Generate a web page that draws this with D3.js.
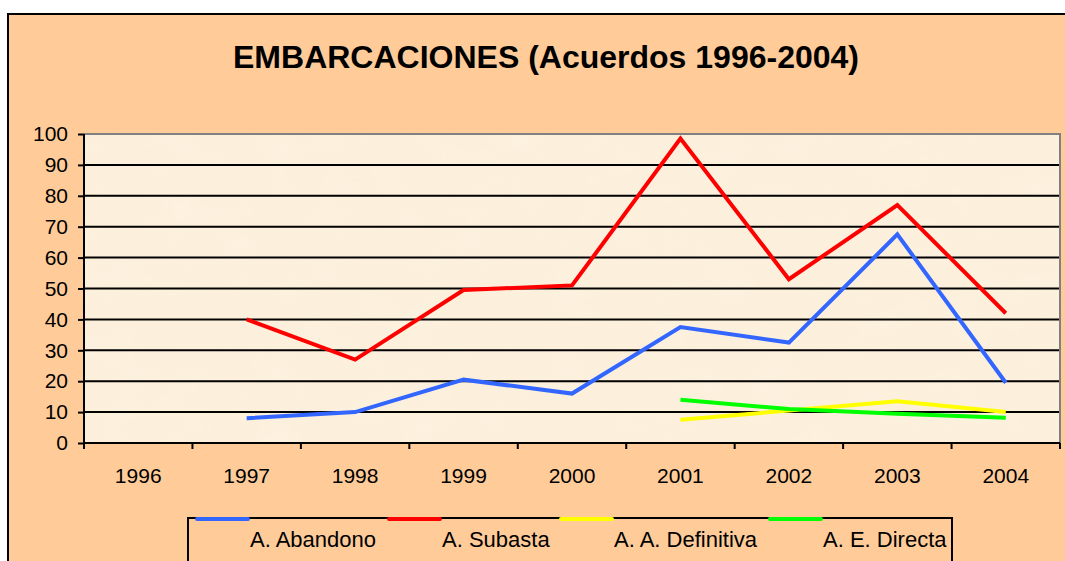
<!DOCTYPE html>
<html lang="es">
<head>
<meta charset="UTF-8">
<script src="https://cdn.jsdelivr.net/npm/d3@7/dist/d3.min.js"></script>
<title>EMBARCACIONES</title>
<style>
    body, html { margin: 0; padding: 0; background: #fff; }
    #chart { width: 1065px; height: 561px; }
</style>
</head>
<body>
<div id="chart"></div>
<script>
// datos
const years = ["1996", "1997", "1998", "1999", "2000", "2001", "2002", "2003", "2004"]
const abandono   = [null, 8, 10, 20.5, 16, 37.5, 32.5, 67.5, 19.5]
const subasta    = [null, 40, 27, 49.5, 51, 98.5, 53, 77, 42]
const definitiva = [null, null, null, null, null, 7.5, 10.5, 13.5, 10]
const directa    = [null, null, null, null, null, 14, 11, 9.5, 8.2]
const seriesNames = ["A. Abandono", "A. Subasta", "A. A. Definitiva", "A. E. Directa"]
const seriesColors = ["#3366ff", "#ff0000", "#ffff00", "#00ff00"]
const yTicks = [0, 10, 20, 30, 40, 50, 60, 70, 80, 90, 100]

const W = 1065, H = 561
const plot = { left: 84, right: 1060, top: 134, bottom: 443 }
const FONT = "Arial, 'Liberation Sans', sans-serif"

const svg = d3.select("#chart").append("svg").attr("width", W).attr("height", H)
    .style("font-family", FONT)

// textura del fondo
const defs = svg.append("defs")
const filt = defs.append("filter").attr("id", "paper").attr("x", 0).attr("y", 0).attr("width", "100%").attr("height", "100%")
filt.append("feTurbulence").attr("type", "fractalNoise").attr("baseFrequency", "0.02 0.03").attr("numOctaves", 3).attr("seed", 4).attr("result", "n")
filt.append("feColorMatrix").attr("in", "n").attr("type", "matrix")
    .attr("values", "0 0 0 0 0.99  0 0 0 0 0.93  0 0 0 0 0.82  0 0 0 -0.9 0.5").attr("result", "c")
filt.append("feComposite").attr("in", "c").attr("in2", "SourceGraphic").attr("operator", "in")

// marco exterior
svg.append("rect").attr("x", 8).attr("y", 14).attr("width", W + 20).attr("height", H + 20)
    .attr("fill", "#ffcc99").attr("stroke", "#000").attr("stroke-width", 2)

// título
svg.append("text").attr("x", 546).attr("y", 68).attr("text-anchor", "middle")
    .attr("font-size", 32).attr("font-weight", "bold").text("EMBARCACIONES (Acuerdos 1996-2004)")

const x = d3.scaleBand().domain(years).range([plot.left, plot.right])
const y = d3.scaleLinear().domain([0, 100]).range([plot.bottom, plot.top])

// área de trazado
svg.append("rect").attr("x", plot.left).attr("y", plot.top).attr("width", plot.right - plot.left).attr("height", plot.bottom - plot.top)
    .attr("fill", "#fcf0dc")
svg.append("rect").attr("x", plot.left).attr("y", plot.top).attr("width", plot.right - plot.left).attr("height", plot.bottom - plot.top)
    .attr("fill", "#fff").attr("filter", "url(#paper)").attr("opacity", 0.6)

// líneas de cuadrícula
svg.append("g").selectAll("line").data(yTicks.slice(1, -1)).enter().append("line")
    .attr("x1", plot.left).attr("x2", plot.right).attr("y1", d => y(d)).attr("y2", d => y(d))
    .attr("stroke", "#000").attr("stroke-width", 2)

// borde del área (gris)
svg.append("path").attr("d", `M${plot.left},${plot.top}H${plot.right}V${plot.bottom}`)
    .attr("fill", "none").attr("stroke", "#808080").attr("stroke-width", 2)

// eje Y
const yAxis = svg.append("g").attr("transform", `translate(${plot.left},0)`)
    .call(d3.axisLeft(y).tickValues(yTicks).tickSize(6).tickPadding(10))
yAxis.attr("font-size", 21).attr("font-family", FONT)
yAxis.select(".domain").attr("stroke", "#000").attr("stroke-width", 2).attr("d", `M0,${plot.top}V${plot.bottom}`)
yAxis.selectAll(".tick line").attr("stroke", "#000").attr("stroke-width", 2)
yAxis.selectAll("text").attr("fill", "#000")

// eje X
const xTickPos = years.map(d => x(d)).concat([plot.right])
const xAxis = svg.append("g")
xAxis.append("line").attr("x1", plot.left).attr("x2", plot.right).attr("y1", plot.bottom).attr("y2", plot.bottom)
    .attr("stroke", "#000").attr("stroke-width", 2)
xAxis.selectAll("line.tk").data(xTickPos).enter().append("line").attr("class", "tk")
    .attr("x1", d => d).attr("x2", d => d).attr("y1", plot.bottom).attr("y2", plot.bottom + 6)
    .attr("stroke", "#000").attr("stroke-width", 2)
xAxis.selectAll("text").data(years).enter().append("text")
    .attr("x", d => x(d) + x.bandwidth() / 2).attr("y", 483).attr("text-anchor", "middle")
    .attr("font-size", 21).text(d => d)

// series
const allSeries = [abandono, subasta, definitiva, directa]
const line = d3.line().defined(d => d != null)
    .x((d, i) => x(years[i]) + x.bandwidth() / 2).y(d => y(d))
allSeries.forEach((s, k) => {
    svg.append("path").datum(s).attr("d", line).attr("fill", "none")
        .attr("stroke", seriesColors[k]).attr("stroke-width", 4).attr("stroke-linejoin", "miter")
})

// leyenda
const legX = [197, 389, 561, 770]
svg.append("rect").attr("x", 188).attr("y", 518).attr("width", 764).attr("height", 60)
    .attr("fill", "#ffcc99").attr("stroke", "#000").attr("stroke-width", 2)
const leg = svg.append("g").selectAll("g").data(seriesNames).enter().append("g")
leg.append("line").attr("x1", (d, i) => legX[i]).attr("x2", (d, i) => legX[i] + 51)
    .attr("y1", 519).attr("y2", 519).attr("stroke", (d, i) => seriesColors[i]).attr("stroke-width", 4).attr("stroke-linecap", "round")
leg.append("text").attr("x", (d, i) => legX[i] + 53).attr("y", 547).attr("font-size", 22).text(d => d)
</script>
</body>
</html>
